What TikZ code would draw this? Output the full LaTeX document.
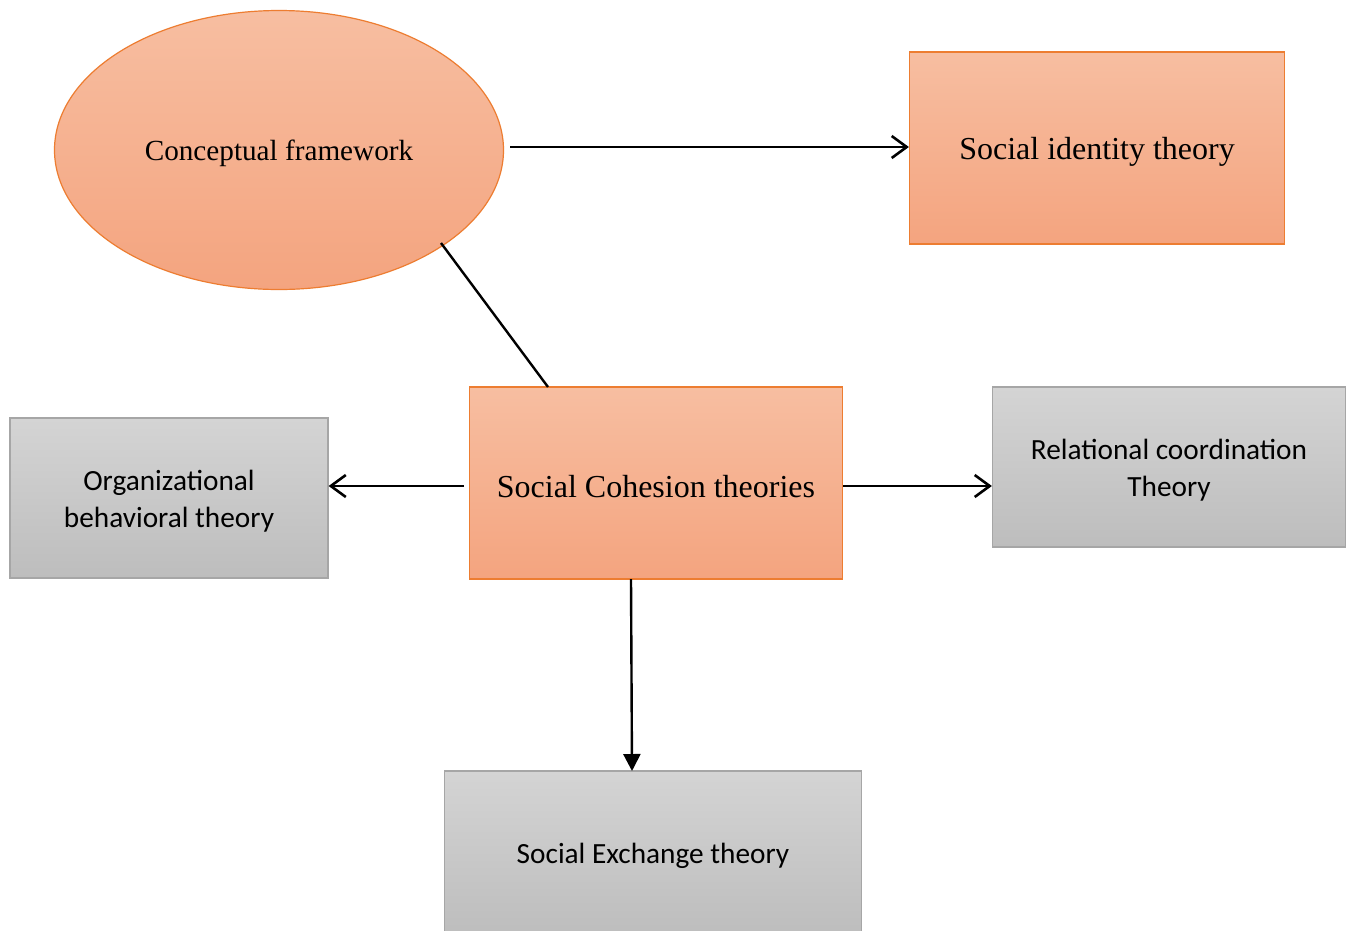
\documentclass[tikz,border=0pt]{standalone}
\usepackage{fontspec}
\setmainfont{Liberation Serif}
\newfontfamily\calib{Carlito}
\usetikzlibrary{shapes.geometric,arrows.meta}
\definecolor{orTop}{HTML}{F7BEA1}
\definecolor{orBot}{HTML}{F4A47F}
\definecolor{orLine}{HTML}{ED7D31}
\definecolor{grTop}{HTML}{D4D4D4}
\definecolor{grBot}{HTML}{BDBDBD}
\definecolor{grLine}{HTML}{A6A6A6}
\tikzset{
  orbox/.style={draw=orLine, line width=1.2pt, top color=orTop, bottom color=orBot, inner sep=0pt},
  grbox/.style={draw=grLine, line width=1.2pt, top color=grTop, bottom color=grBot, inner sep=0pt},
  ortxt/.style={align=center, inner sep=0pt, yshift=-3.5pt, font=\fontsize{32}{38}\selectfont},
  grtxt/.style={align=center, inner sep=0pt, yshift=-3pt, font=\calib\fontsize{29.3}{37}\selectfont},
  conn/.style={line width=2.4pt, black},
  openarrow/.style={conn, -{Straight Barb[length=15pt,width=22pt,line width=2.6pt]}},
  fillarrow/.style={conn, -{Triangle[length=17pt,width=17pt]}}
}
\begin{document}
\begin{tikzpicture}[x=1pt,y=-1pt]
\clip (0,0) rectangle (1350,930);
\fill[white] (0,0) rectangle (1350,930);
\node[orbox, ellipse, minimum width=449pt, minimum height=279pt,
  label={[ortxt, font=\fontsize{29.2}{35}\selectfont]center:Conceptual framework}] (cf) at (279,150) {};
\node[orbox, minimum width=375pt, minimum height=192pt,
  label={[ortxt]center:Social identity theory}] (sit) at (1097,148) {};
\node[orbox, minimum width=373pt, minimum height=192pt,
  label={[ortxt]center:Social Cohesion theories}] (sct) at (656,483) {};
\node[grbox, minimum width=318pt, minimum height=160pt,
  label={[grtxt]center:Organizational\\behavioral theory}] (obt) at (169,498) {};
\node[grbox, minimum width=353pt, minimum height=160pt,
  label={[grtxt]center:Relational coordination\\Theory}] (rct) at (1169,467) {};
\node[grbox, minimum width=417pt, minimum height=164pt,
  label={[grtxt]center:Social Exchange theory}] (set) at (653,853) {};
\coordinate (a1) at (510,147);
\coordinate (c1) at (441,243);
\coordinate (c2) at (548,387);
\coordinate (b1) at (464,486);
\coordinate (b2) at (843,486);
\coordinate (d1) at (631,579);
\coordinate (d2) at (632,771);
\draw[openarrow] (a1) -- (sit.west |- a1);
\draw[conn] (c1) -- (c2);
\draw[openarrow] (b1) -- (obt.east |- b1);
\draw[openarrow] (b2) -- (rct.west |- b2);
\draw[fillarrow] (d1) -- (d2);
\end{tikzpicture}
\end{document}
